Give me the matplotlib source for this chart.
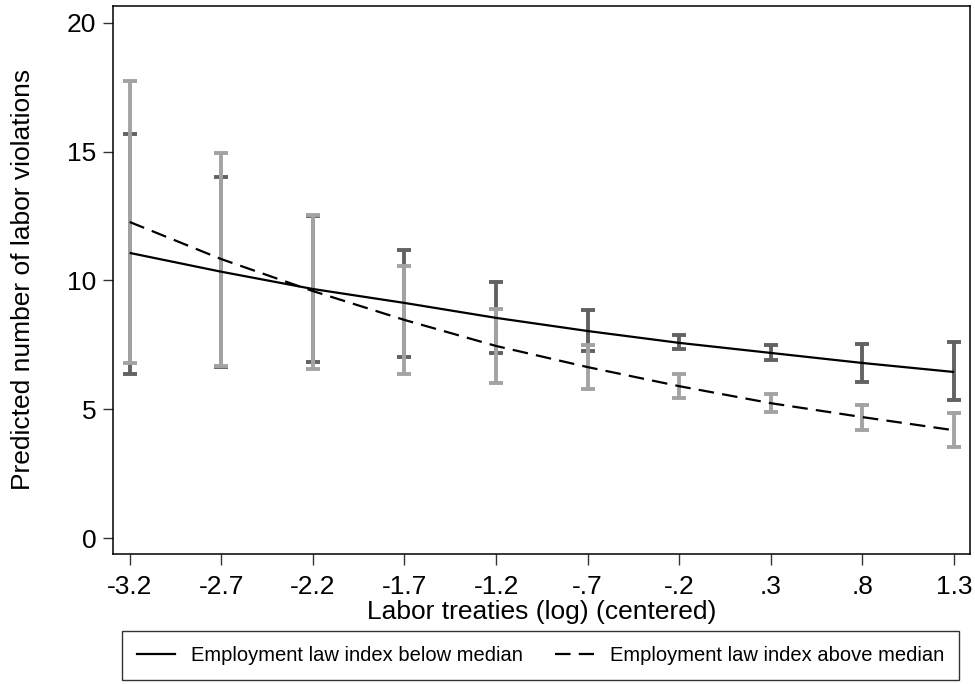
import matplotlib
matplotlib.use("Agg")
import matplotlib.pyplot as plt
from matplotlib.lines import Line2D

plt.rcParams['font.family'] = ['Liberation Sans', 'DejaVu Sans']

# Data
x_ticks = [-3.2, -2.7, -2.2, -1.7, -1.2, -0.7, -0.2, 0.3, 0.8, 1.3]
x_labels = ["-3.2", "-2.7", "-2.2", "-1.7", "-1.2", "-.7", "-.2", ".3", ".8", "1.3"]

below_mean = [11.07, 10.34, 9.67, 9.13, 8.55, 8.04, 7.58, 7.19, 6.80, 6.45]
below_lo = [6.36, 6.63, 6.83, 7.02, 7.18, 7.28, 7.33, 6.92, 6.07, 5.36]
below_hi = [15.69, 14.03, 12.52, 11.18, 9.93, 8.84, 7.89, 7.50, 7.54, 7.60]

above_mean = [12.27, 10.83, 9.59, 8.47, 7.46, 6.64, 5.90, 5.24, 4.70, 4.19]
above_lo = [6.79, 6.68, 6.56, 6.37, 6.03, 5.78, 5.43, 4.89, 4.20, 3.53]
above_hi = [17.73, 14.93, 12.54, 10.57, 8.89, 7.50, 6.37, 5.60, 5.17, 4.87]

y_ticks = [0, 5, 10, 15, 20]

dark = "#626262"
light = "#a3a3a3"

W, H = 975, 684
fig = plt.figure(figsize=(W / 100, H / 100), dpi=100)
ax = fig.add_axes([113 / W, 1 - 554 / H, (970 - 113) / W, (554 - 5.7) / H])

def draw_ci(mean, lo, hi, color, z):
    yerr = [[m - l for m, l in zip(mean, lo)], [h - m for m, h in zip(mean, hi)]]
    ax.errorbar(x_ticks, mean, yerr=yerr, fmt='none', ecolor=color,
                elinewidth=2.8, capsize=5.0, capthick=2.8, zorder=z)

draw_ci(below_mean, below_lo, below_hi, dark, 2)
draw_ci(above_mean, above_lo, above_hi, light, 3)

ax.plot(x_ticks, below_mean, color='black', lw=1.6, solid_capstyle='butt', zorder=5)
ax.plot(x_ticks, above_mean, color='black', lw=1.6, dashes=(7, 3.7), zorder=5)

ax.set_xlim(-3.291, 1.387)
ax.set_ylim(-0.61, 20.66)
ax.set_xticks(x_ticks)
ax.set_xticklabels(x_labels)
ax.set_yticks(y_ticks)
ax.tick_params(axis='x', length=8, width=1, pad=7, labelsize=19, color='#333333')
ax.tick_params(axis='y', length=7, width=1, pad=5, labelsize=19, color='#333333')
for s in ax.spines.values():
    s.set_linewidth(1.1)
    s.set_color('black')

ax.set_xlabel("Labor treaties (log) (centered)", fontsize=19, labelpad=1)
ax.set_ylabel("Predicted number of labor violations", fontsize=19, labelpad=23)

handles = [Line2D([], [], color='black', lw=1.6),
           Line2D([], [], color='black', lw=1.6, dashes=(7, 3.7))]
labels = ["Employment law index below median", "Employment law index above median"]
leg = fig.legend(handles, labels, loc='upper left', ncol=2, mode='expand',
                 bbox_to_anchor=(122 / W, 1 - 638 / H, (959 - 122) / W, 0.01),
                 borderaxespad=0, fontsize=14.5, frameon=True, fancybox=False,
                 handlelength=1.9, handletextpad=0.8, borderpad=0.75)
leg.get_frame().set_edgecolor('black')
leg.get_frame().set_linewidth(1.0)

fig.savefig("out.png", dpi=100)
